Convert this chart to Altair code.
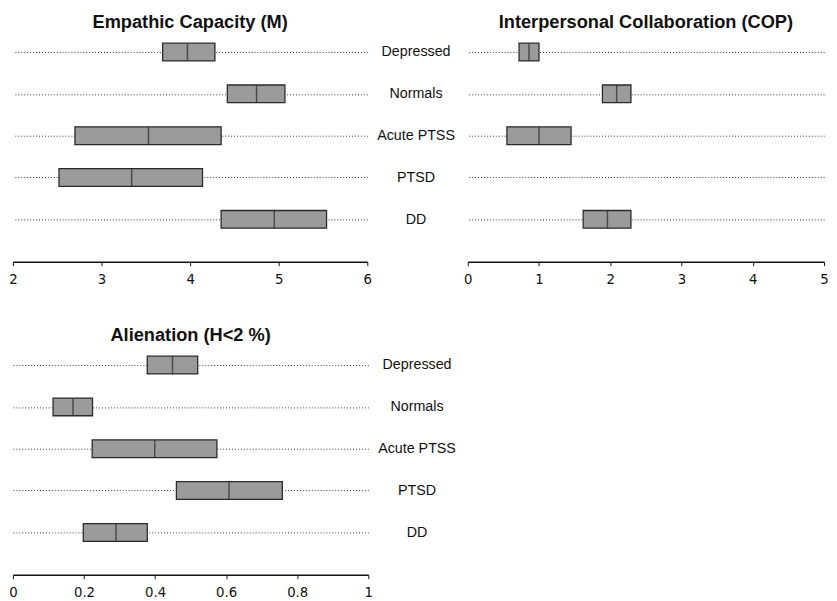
import altair as alt
import pandas as pd

groups = ["Depressed", "Normals", "Acute PTSS", "PTSD", "DD"]

# Empathic Capacity (M)
m_low = [3.69, 4.42, 2.70, 2.52, 4.35]
m_med = [3.97, 4.75, 3.53, 3.34, 4.95]
m_high = [4.28, 5.07, 4.35, 4.14, 5.54]

# Interpersonal Collaboration (COP) - no box for PTSD
cop_groups = ["Depressed", "Normals", "Acute PTSS", "DD"]
cop_low = [0.72, 1.89, 0.55, 1.62]
cop_med = [0.86, 2.09, 1.00, 1.96]
cop_high = [1.00, 2.29, 1.45, 2.29]

# Alienation (H<2 %)
h_low = [0.378, 0.113, 0.223, 0.46, 0.198]
h_med = [0.449, 0.169, 0.399, 0.608, 0.29]
h_high = [0.52, 0.224, 0.574, 0.758, 0.378]

m_ticks = [2, 3, 4, 5, 6]
cop_ticks = [0, 1, 2, 3, 4, 5]
h_ticks = [0, 0.2, 0.4, 0.6, 0.8, 1]

FONT = "Liberation Sans"
NARROW = "Liberation Sans Narrow, DejaVu Sans Condensed, Liberation Sans"


def panel(g, lo, md, hi, title, domain, ticks, show_labels, width):
    df = pd.DataFrame({"group": g, "low": lo, "med": md, "high": hi})
    y = alt.Y(
        "group:N",
        sort=groups,
        scale=alt.Scale(type="point", domain=groups, padding=0.353),
        axis=alt.Axis(
            orient="right",
            title=None,
            grid=True,
            gridDash=[1, 2],
            gridColor="#333",
            gridWidth=1,
            domain=False,
            ticks=False,
            labels=show_labels,
            labelAlign="center",
            labelPadding=49,
            labelFont=FONT,
            labelFontSize=14.5,
            labelColor="#111",
        ),
    )
    xscale = alt.Scale(domain=domain, nice=False, zero=False)
    xaxis = alt.Axis(
        values=ticks,
        title=None,
        grid=False,
        format="~g",
        labelFlush=False,
        domainColor="#111",
        domainWidth=1.5,
        tickColor="#111",
        tickSize=4,
        labelPadding=6,
        labelFont=NARROW,
        labelFontSize=15,
        labelColor="#111",
        offset=28,
    )
    box = alt.Chart(df).mark_bar(
        size=18, fill="#9b9b9b", stroke="#2a2a2a", strokeWidth=1.3
    ).encode(
        x=alt.X("low:Q", scale=xscale, axis=xaxis),
        x2="high:Q",
        y=y,
    )
    med = alt.Chart(df).mark_tick(
        size=18, thickness=1.5, color="#2a2a2a", orient="vertical"
    ).encode(
        x=alt.X("med:Q", scale=xscale),
        y=alt.Y("group:N", sort=groups),
    )
    return alt.layer(box, med).properties(
        width=width,
        height=200,
        title=alt.TitleParams(
            title, font=FONT, fontSize=18.5, fontWeight="bold", color="#111",
            anchor="middle", offset=6,
        ),
    )


p1 = panel(groups, m_low, m_med, m_high, "Empathic Capacity (M)", [2, 6], m_ticks, True, 360)
p2 = panel(cop_groups, cop_low, cop_med, cop_high, "Interpersonal Collaboration (COP)", [0, 5], cop_ticks, False, 362)
p3 = panel(groups, h_low, h_med, h_high, "Alienation (H<2 %)", [0, 1], h_ticks, True, 361)

chart = alt.vconcat(
    alt.hconcat(p1, p2, spacing=8),
    p3,
    spacing=40,
).properties(
    padding={"left": 0, "top": 0, "right": 0, "bottom": 0},
    background="white",
).configure_view(stroke=None)

chart.save("out.html", embed_options={"renderer": "svg", "actions": False})
